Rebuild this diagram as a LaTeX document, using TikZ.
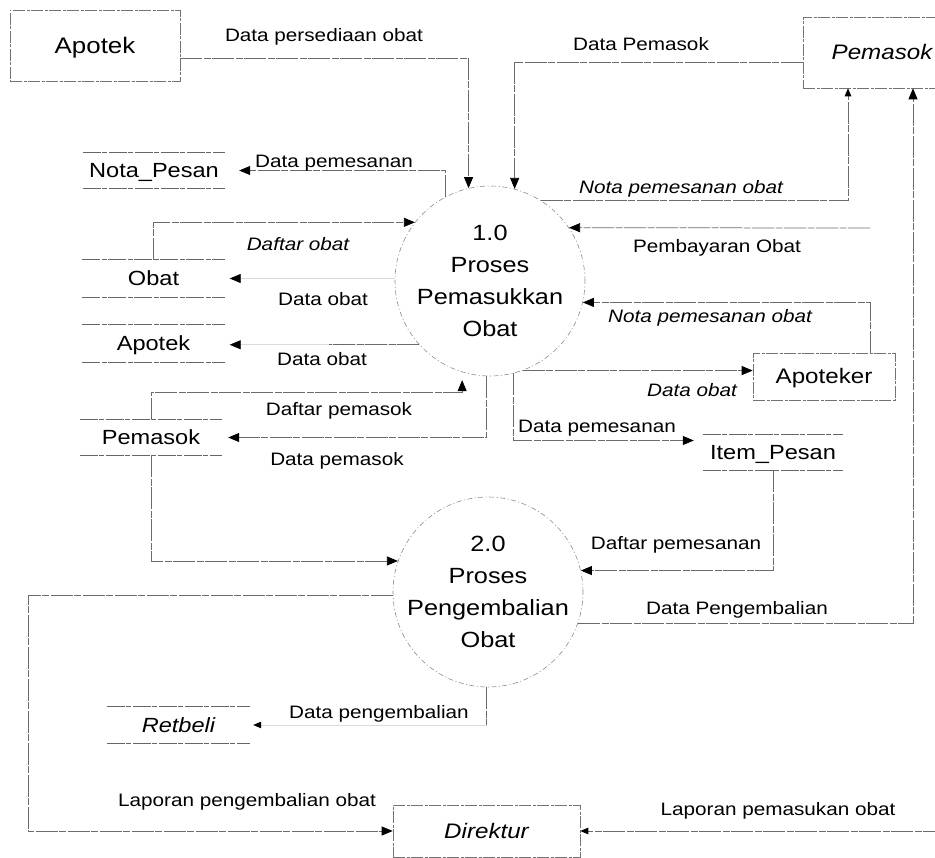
\documentclass[tikz,border=0pt]{standalone}
\usepackage{fontspec}
\setmainfont[FakeStretch=1.15]{Liberation Sans}
\usetikzlibrary{arrows.meta,calc}

\tikzset{
  flow/.style={draw=black!58, line width=0.75pt, dash pattern=on 22pt off 1.5pt on 7pt off 1.5pt},
  faint/.style={draw=black!14, line width=0.6pt},
  arr/.style={-{Triangle[length=11pt,width=9pt,color=black]}},
  sarr/.style={-{Triangle[length=8pt,width=6.5pt,color=black]}},
  lbl/.style={anchor=base, inner sep=0pt, font=\fontsize{18}{20}\selectfont},
  ilbl/.style={anchor=base, inner sep=0pt, font=\fontsize{18}{20}\selectfont\itshape},
  entity/.style={draw=black!55, line width=0.6pt, dash pattern=on 12pt off 1.5pt on 3pt off 1.5pt,
    inner sep=0pt, font=\fontsize{21}{24}\selectfont, text height=15pt, text depth=0pt},
  store/.style={inner sep=0pt, minimum width=142pt, minimum height=36pt,
    font=\fontsize{20.5}{24}\selectfont, text height=14.7pt, text depth=0pt},
  storeline/.style={draw=black!60, line width=0.7pt, dash pattern=on 18pt off 1.5pt on 5pt off 1.5pt},
  proc/.style={circle, draw=black!45, line width=0.6pt, dash pattern=on 5pt off 2.5pt on 1pt off 2.5pt,
    minimum size=190pt, inner sep=0pt},
  proctext/.style={align=center, inner sep=0pt, font=\fontsize{22}{32}\selectfont},
}

\begin{document}
\begin{tikzpicture}[x=1pt,y=-1pt]
\clip (0,0) rectangle (935,858);

% processes
\node[proc] (p1) at (490,281) {};
\node[proctext] at (p1.center) {1.0\\Proses\\Pemasukkan\\Obat};
\node[proc] (p2) at (488,592) {};
\node[proctext] at (p2.center) {2.0\\Proses\\Pengembalian\\Obat};

% external entities
\node[entity, minimum width=170pt, minimum height=71pt, font=\fontsize{22.5}{24}\selectfont, text height=16pt] (apotek) at (95,45.5) {Apotek};
\node[entity, minimum width=158pt, minimum height=71pt, font=\fontsize{21}{24}\selectfont\itshape] (peme) at (882,52.5) {Pemasok};
\node[entity, minimum width=142pt, minimum height=47pt] (apoteker) at (824,376.5) {Apoteker};
\node[entity, minimum width=187pt, minimum height=52pt, font=\fontsize{21}{24}\selectfont\itshape] (direktur) at (486.5,831) {Direktur};

% data stores
\node[store, minimum height=35pt] (nota) at (154,170.5) {Nota\_Pesan};
\node[store, minimum height=37pt] (obat) at (153.5,278.5) {Obat};
\node[store, minimum height=37pt] (apts) at (153.5,343.5) {Apotek};
\node[store, minimum height=35pt] (pems) at (151,437.5) {Pemasok};
\node[store, minimum width=140pt, minimum height=35pt] (item) at (773,452.5) {Item\_Pesan};
\node[store, minimum width=143pt, font=\fontsize{20.5}{24}\selectfont\itshape] (ret) at (178.5,725) {Retbeli};
\foreach \s in {nota,obat,apts,pems,item,ret}
  \draw[storeline] (\s.north west) -- (\s.north east) (\s.south west) -- (\s.south east);

% free ends and arrow targets
\coordinate (pay) at (870,228);
\coordinate (rin) at (945,831);
\coordinate (lx) at (28,0);
\coordinate (tipO) at ([xshift=5pt]obat.east);
\coordinate (tipA) at ([xshift=5pt]apts.east);
\coordinate (tipR) at ([xshift=3pt]ret.east);

% flows of process 1.0
\draw[flow,arr] ([yshift=-12.5pt]apotek.east) -| (p1.103);
\draw[flow,arr] ([yshift=-9.5pt]peme.west) -| (p1.75);
\draw[flow,arr] (p1.118) |- ([xshift=14pt]nota.east);
\draw[flow,sarr] (p1.58) -| ([xshift=-34pt]peme.south);
\draw[flow,arr] (obat.north) |- (p1.142);
\draw[flow,arr] (pay) -- (p1.34);
\draw[faint,arr] (tipO -| p1.west) -- (tipO);
\draw[flow,arr] ([xshift=46pt]apoteker.north) |- (p1.-13);
\draw[faint,arr] (p1.222) -- (p1.222 -| tipA);
\draw[flow] (p1.222) -- ++(-90,0);
\draw[flow,arr] (p1.-70) -- (p1.-70 -| apoteker.west);
\draw[flow,arr] (pems.north) |- ($(p1.253)+(0,20)$) -- ($(p1.253)+(0,8)$);
\draw[flow,arr] (p1.268) |- ([xshift=6pt]pems.east);
\draw[flow,arr] (p1.-76) |- ([xshift=-9pt,yshift=12pt]item.west);

% flows of process 2.0
\draw[flow,arr] (pems.south) |- (p2.161);
\draw[flow,arr] (item.south) |- (p2.13);
\draw[flow,arr] (p2.-19) -| ([xshift=31pt]peme.south);
\draw[flow,arr] (p2.182) -- (p2.182 -| lx) |- (direktur.west);
\draw[flow,sarr] (rin) -- (direktur.east);
\draw[faint,sarr] (p2.-91) |- (tipR);
\draw[flow] (p2.-91) -- (p2.-91 |- tipR);

% flow labels
\node[lbl] at (324,42) {Data persediaan obat};
\node[lbl] at (641,51) {Data Pemasok};
\node[lbl] at (334,168) {Data pemesanan};
\node[ilbl] at (681,194) {Nota pemesanan obat};
\node[ilbl] at (298,251) {Daftar obat};
\node[lbl] at (717,253) {Pembayaran Obat};
\node[lbl] at (323,306) {Data obat};
\node[ilbl] at (710,323) {Nota pemesanan obat};
\node[lbl] at (322,366) {Data obat};
\node[ilbl] at (692,397) {Data obat};
\node[lbl] at (339,416) {Daftar pemasok};
\node[lbl] at (597,433) {Data pemesanan};
\node[lbl] at (337,466) {Data pemasok};
\node[lbl] at (676,550) {Daftar pemesanan};
\node[lbl] at (737,614) {Data Pengembalian};
\node[lbl] at (379,718) {Data pengembalian};
\node[lbl] at (247,806) {Laporan pengembalian obat};
\node[lbl] at (778,815) {Laporan pemasukan obat};
\end{tikzpicture}
\end{document}
